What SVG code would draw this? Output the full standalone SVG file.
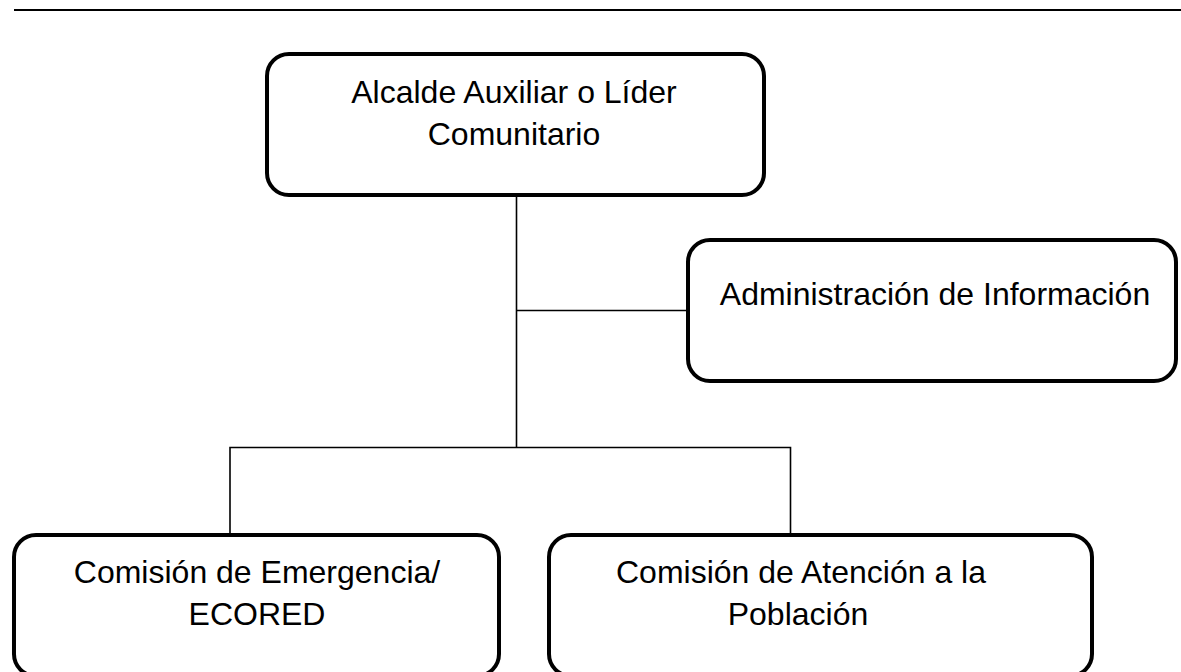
<svg xmlns="http://www.w3.org/2000/svg" width="1181" height="672" viewBox="0 0 1181 672">
<style>
.box{fill:#fff;stroke:#000;stroke-width:4}
.lbl{font-family:"Liberation Sans",Arial,sans-serif;font-size:32px;fill:#000;text-anchor:middle}
.con{fill:none;stroke:#000;stroke-width:1.6}
</style>
<rect width="1181" height="672" fill="#fff"/>
<line x1="14" y1="10" x2="1181" y2="10" stroke="#000" stroke-width="2"/>
<g id="connectors">
<path class="con" d="M516.5 196 V447.5 M516.5 310.5 H688 M230 533 V447.5 H790.5 V533"/>
</g>
<g id="n-alcalde">
<rect class="box" x="267" y="54" width="497" height="141" rx="22"/>
<text class="lbl" x="514" y="103">Alcalde Auxiliar o Líder</text>
<text class="lbl" x="514" y="145">Comunitario</text>
</g>
<g id="n-admin">
<rect class="box" x="688" y="240" width="488" height="141" rx="22"/>
<text class="lbl" x="935" y="305">Administración de Información</text>
</g>
<g id="n-emergencia">
<rect class="box" x="14" y="535" width="485" height="141" rx="22"/>
<text class="lbl" x="257" y="583">Comisión de Emergencia/</text>
<text class="lbl" x="257" y="625">ECORED</text>
</g>
<g id="n-atencion">
<rect class="box" x="549" y="535" width="543" height="141" rx="22"/>
<text class="lbl" x="801" y="583">Comisión de Atención a la</text>
<text class="lbl" x="798" y="625">Población</text>
</g>
</svg>
